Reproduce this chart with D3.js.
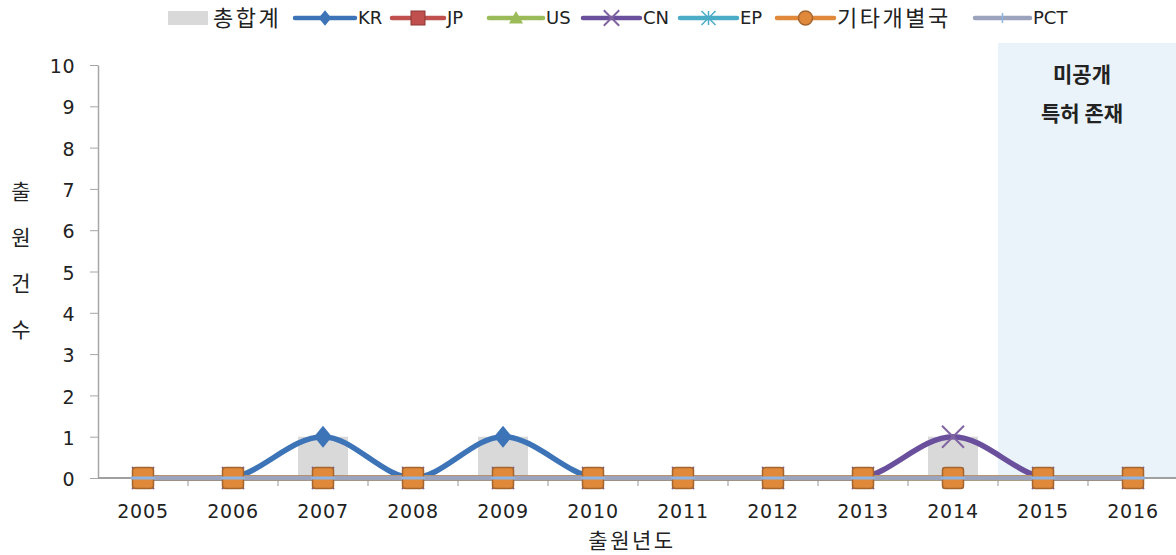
<!DOCTYPE html>
<html><head><meta charset="utf-8">
<script src="https://cdn.jsdelivr.net/npm/d3@7"></script>
<style>
html,body{margin:0;padding:0;background:#fff;}
svg{display:block;}
.kr{font-family:"Noto Sans CJK KR","Noto Sans",sans-serif;}
.num{font-family:"DejaVu Sans",sans-serif;}
</style></head>
<body>
<svg id="chart" width="1176" height="555"></svg>
<script>
// ---- data ----
const years = ["2005","2006","2007","2008","2009","2010","2011","2012","2013","2014","2015","2016"];
const total = [0,0,1,0,1,0,0,0,0,1,0,0];
const KR  = [0,0,1,0,1,0,0,0,0,0,0,0];
const JP  = [0,0,0,0,0,0,0,0,0,0,0,0];
const US  = [0,0,0,0,0,0,0,0,0,0,0,0];
const CN  = [0,0,0,0,0,0,0,0,0,1,0,0];
const EP  = [0,0,0,0,0,0,0,0,0,0,0,0];
const ETC = [0,0,0,0,0,0,0,0,0,0,0,0];
const PCT = [0,0,0,0,0,0,0,0,0,0,0,0];
const yTicks = [0,1,2,3,4,5,6,7,8,9,10];
const unpublishedYears = ["2015","2016"];
const legendLabels = ["총합계","KR","JP","US","CN","EP","기타개별국","PCT"];
const yTitle = ["출","원","건","수"];
const xTitle = "출원년도";
const noteLines = ["미공개","특허 존재"];

const series = [
  {name:"KR", values:KR, color:"#3d73b7", marker:"diamond"},
  {name:"JP", values:JP, color:"#c0504d", marker:"square"},
  {name:"US", values:US, color:"#9bbb59", marker:"triangle"},
  {name:"CN", values:CN, color:"#6a4f9c", marker:"x", mcolor:"#8064a2"},
  {name:"EP", values:EP, color:"#4bacc6", marker:"star"},
  {name:"기타개별국", values:ETC, color:"#e0893b", marker:"rsquare"},
  {name:"PCT", values:PCT, color:"#9ba3bd", marker:"plus", mcolor:"#8fb4e3"}
];

const svg = d3.select("#chart");
const left = 98, right = 1178, y0px = 478, y10px = 65;
const x = d3.scaleBand().domain(years).range([left, right]);
const xBar = d3.scaleBand().domain(years).range([left, right]).paddingInner(0.444).paddingOuter(0.222);
const y = d3.scaleLinear().domain([0,10]).range([y0px, y10px]);
const cx = d => x(d) + x.bandwidth()/2;

svg.append("defs").append("clipPath").attr("id","clipTop")
  .append("rect").attr("x",0).attr("y",0).attr("width",1176).attr("height", y(0) + 2.5);

// unpublished shaded area
const sx = x(unpublishedYears[0]);
svg.append("rect").attr("x", sx).attr("y", 43).attr("width", 1176 - sx).attr("height", y(0) - 43)
  .attr("fill", "#eaf3fa");
const noteCx = (sx + 1176)/2 - 5;
svg.append("text").attr("class","kr").attr("x", noteCx).attr("y", 82).attr("text-anchor","middle")
  .attr("font-size", 21).attr("font-weight","bold").attr("fill","#222").text(noteLines[0]);
svg.append("text").attr("class","kr").attr("x", noteCx).attr("y", 121).attr("text-anchor","middle")
  .attr("font-size", 21).attr("font-weight","bold").attr("fill","#222").text(noteLines[1]);

// y axis
const yAxis = d3.axisLeft(y).tickValues(yTicks).tickSize(8).tickSizeOuter(0).tickPadding(15).tickFormat(d3.format("d"));
const gy = svg.append("g").attr("transform", `translate(${left},0)`).call(yAxis);
gy.select(".domain").attr("stroke","#a6a6a6").attr("stroke-width",1.5);
gy.selectAll(".tick line").attr("stroke","#a6a6a6");
gy.selectAll(".tick text").attr("class","num").attr("font-size",19).attr("letter-spacing",0.5).attr("fill","#222").attr("dy","0.4em");

// bars (총합계)
svg.append("g").selectAll("rect").data(years).join("rect")
  .attr("x", d => xBar(d)).attr("width", xBar.bandwidth())
  .attr("y", (d,i) => y(total[i])).attr("height", (d,i) => y(0) - y(total[i]))
  .attr("fill", "#d9d9d9");

// x axis
svg.append("line").attr("x1", left).attr("x2", 1176).attr("y1", y(0)).attr("y2", y(0))
  .attr("stroke","#a0a0a0").attr("stroke-width",2);
svg.append("g").selectAll("line").data(years.slice(1)).join("line")
  .attr("x1", d => x(d)).attr("x2", d => x(d)).attr("y1", y(0)).attr("y2", y(0)+8)
  .attr("stroke","#a6a6a6").attr("stroke-width",1.2);
svg.append("g").selectAll("text").data(years).join("text")
  .attr("class","num").attr("x", d => cx(d)).attr("y", 518).attr("text-anchor","middle")
  .attr("font-size",19).attr("letter-spacing",0.8).attr("fill","#222").text(d => d);

// lines
const line = d3.line().x(d => cx(d.year)).y(d => y(d.v)).curve(d3.curveCatmullRom.alpha(0));
const gLines = svg.append("g").attr("clip-path","url(#clipTop)");
series.forEach(s => {
  const pts = years.map((yr,i) => ({year:yr, v:s.values[i]}));
  gLines.append("path").datum(pts).attr("d", line).attr("fill","none")
    .attr("stroke", s.color).attr("stroke-width", s.name==="PCT"?4.5:5.5).attr("stroke-linejoin","round");
});

// markers
function drawMarker(g, type, px, py, s, legend) {
  const c = s.mcolor || s.color;
  const k = legend ? 0.7 : 1;
  if (type === "diamond") {
    const w = 9*k, h = 11*k;
    g.append("path").attr("d", `M${px},${py-h}L${px+w},${py}L${px},${py+h}L${px-w},${py}Z`).attr("fill", c);
  } else if (type === "square") {
    const r = 10*k;
    g.append("rect").attr("x", px-r).attr("y", py-r).attr("width", 2*r).attr("height", 2*r)
      .attr("fill", c).attr("stroke", "#8c3836");
  } else if (type === "triangle") {
    const r = 10*k;
    g.append("path").attr("d", `M${px},${py-r}L${px+r},${py+r*0.8}L${px-r},${py+r*0.8}Z`).attr("fill", c);
  } else if (type === "x") {
    const r = 11*k;
    g.append("path").attr("d", `M${px-r},${py-r}L${px+r},${py+r}M${px-r},${py+r}L${px+r},${py-r}`)
      .attr("stroke", c).attr("stroke-width", 2);
  } else if (type === "star") {
    const r = 10*k;
    g.append("path").attr("d", `M${px-r},${py-r}L${px+r},${py+r}M${px-r},${py+r}L${px+r},${py-r}M${px},${py-r}L${px},${py+r}`)
      .attr("stroke", c).attr("stroke-width", 1.5);
  } else if (type === "rsquare") {
    const r = legend ? 7 : 10.5;
    g.append("rect").attr("x", px-r).attr("y", py-r).attr("width", 2*r).attr("height", 2*r)
      .attr("rx", legend ? r : 3).attr("fill", c).attr("stroke", "#a5652f").attr("stroke-width", 1.5);
  } else if (type === "plus") {
    const r = 12*k;
    g.append("path").attr("d", legend ? `M${px},${py-r*0.6}L${px},${py+r*0.6}` : `M${px-r},${py}L${px+r},${py}`)
      .attr("stroke", c).attr("stroke-width", legend ? 1.5 : 3);
  }
}
const gm = svg.append("g");
series.forEach(s => {
  years.forEach((yr,i) => drawMarker(gm, s.marker, cx(yr), y(s.values[i]), s, false));
});

// axis titles
yTitle.forEach((ch,i) => {
  svg.append("text").attr("class","kr").attr("x", 21).attr("y", 199 + i*46).attr("text-anchor","middle")
    .attr("font-size",21).attr("fill","#222").text(ch);
});
svg.append("text").attr("class","kr").attr("x", 632).attr("y", 548).attr("text-anchor","middle")
  .attr("font-size",21).attr("letter-spacing",2.5).attr("fill","#222").text(xTitle);

// legend
const legSym = [168, 295, 392, 489, 583, 680, 777, 975];
const legTxt = [213, 358, 447, 546, 643, 740, 837, 1033];
const ly = 18;
const gl = svg.append("g");
gl.append("rect").attr("x", legSym[0]).attr("y", ly-7).attr("width", 40).attr("height", 14).attr("fill","#d9d9d9");
series.forEach((s,i) => {
  const x1 = legSym[i+1], x2 = legTxt[i+1] - 3;
  gl.append("line").attr("x1", x1).attr("x2", x2).attr("y1", ly).attr("y2", ly)
    .attr("stroke", s.color).attr("stroke-width", 4.5).attr("stroke-linecap","round");
  drawMarker(gl, s.marker, (x1+x2)/2, ly, s, true);
});
legendLabels.forEach((t,i) => {
  const isKr = /[\uac00-\ud7a3]/.test(t);
  gl.append("text").attr("class", isKr ? "kr" : "num").attr("x", legTxt[i]).attr("y", ly).attr("dy","0.36em")
    .attr("font-size", isKr ? 22 : 18).attr("letter-spacing", isKr ? 2.5 : 0).attr("fill","#222").text(t);
});
</script>
</body></html>
